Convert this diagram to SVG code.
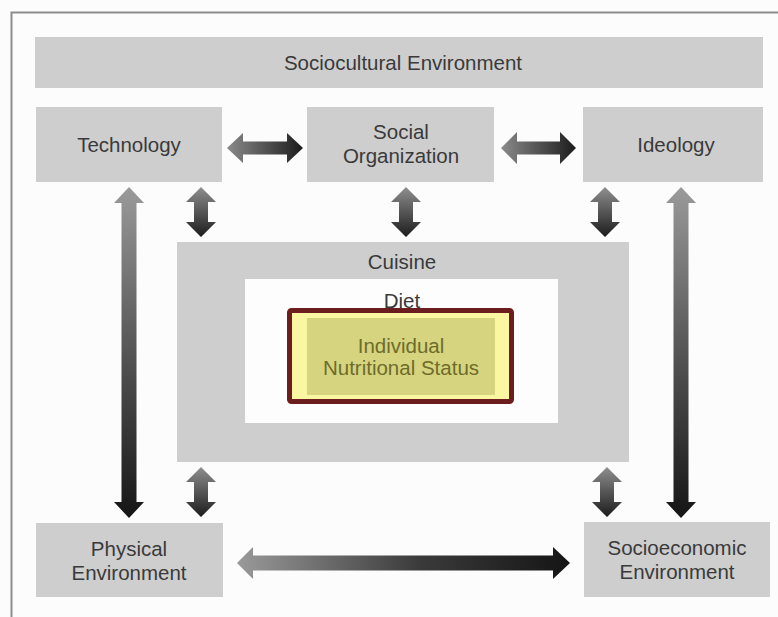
<svg xmlns="http://www.w3.org/2000/svg" width="778" height="617" viewBox="0 0 778 617">
<defs>
<style>
.box{fill:#cecece;}
.t{font-family:"Liberation Sans",Arial,sans-serif;font-size:20.5px;fill:#3a3a3a;text-anchor:middle;dominant-baseline:central;}
.ns{fill:#6e6c2c;}
</style>
<linearGradient id="gh" x1="0" y1="0" x2="1" y2="0">
<stop offset="0" stop-color="#8a8a8a"/><stop offset="1" stop-color="#1c1c1c"/>
</linearGradient>
<linearGradient id="gv" x1="0" y1="0" x2="0" y2="1">
<stop offset="0" stop-color="#8f8f8f"/><stop offset="1" stop-color="#1c1c1c"/>
</linearGradient>
<linearGradient id="glong" x1="0" y1="0" x2="0" y2="1">
<stop offset="0" stop-color="#9a9a9a"/><stop offset="0.5" stop-color="#555"/><stop offset="1" stop-color="#151515"/>
</linearGradient>
<linearGradient id="gbot" x1="0" y1="0" x2="1" y2="0">
<stop offset="0" stop-color="#9a9a9a"/><stop offset="0.55" stop-color="#3a3a3a"/><stop offset="1" stop-color="#151515"/>
</linearGradient>
</defs>
<rect x="0" y="0" width="778" height="617" fill="#fcfcfc"/>
<path d="M11.5 617 V12.5 H778" fill="none" stroke="#8c8c8c" stroke-width="2"/>

<g id="sociocultural"><rect class="box" x="35" y="37" width="728" height="51"/><text class="t" x="403" y="62">Sociocultural Environment</text></g>
<g id="technology"><rect class="box" x="36" y="107" width="186" height="75"/><text class="t" x="129" y="144">Technology</text></g>
<g id="social"><rect class="box" x="307" y="107" width="187" height="75"/><text class="t" x="401" y="131">Social</text><text class="t" x="401" y="155">Organization</text></g>
<g id="ideology"><rect class="box" x="583" y="107" width="180" height="75"/><text class="t" x="676" y="144">Ideology</text></g>
<g id="cuisine"><rect class="box" x="177" y="242" width="452" height="220"/><text class="t" x="402" y="261">Cuisine</text></g>
<g id="diet"><rect x="245" y="279" width="313" height="144" fill="#fdfdfd"/><text class="t" x="402" y="300">Diet</text></g>
<g id="status"><rect x="289.5" y="310.5" width="222" height="91" rx="2" fill="#faf6a2" stroke="#6c1e1e" stroke-width="5"/><rect x="307" y="318" width="188" height="77" fill="#d6d47e"/><text class="t ns" x="401" y="345">Individual</text><text class="t ns" x="401" y="367">Nutritional Status</text></g>
<g id="physical"><rect class="box" x="36" y="523" width="187" height="74"/><text class="t" x="129" y="548">Physical</text><text class="t" x="129" y="572">Environment</text></g>
<g id="socioeconomic"><rect class="box" x="584" y="522" width="186" height="75"/><text class="t" x="677" y="547">Socioeconomic</text><text class="t" x="677" y="571">Environment</text></g>

<g id="connectors">
<path fill="url(#gh)" d="M227 148 L243 133 L243 141.5 L287 141.5 L287 133 L303 148 L287 163 L287 154.5 L243 154.5 L243 163 Z"/>
<path fill="url(#gh)" d="M501 148 L517 132 L517 141.5 L560 141.5 L560 132 L576 148 L560 164 L560 154.5 L517 154.5 L517 164 Z"/>
<path fill="url(#gv)" d="M201 187 L216 202 L208 202 L208 222 L216 222 L201 237 L186 222 L194 222 L194 202 L186 202 Z"/>
<path fill="url(#gv)" d="M406 187 L421 202 L413 202 L413 222 L421 222 L406 237 L391 222 L399 222 L399 202 L391 202 Z"/>
<path fill="url(#gv)" d="M605 187 L620 202 L612 202 L612 222 L620 222 L605 237 L590 222 L598 222 L598 202 L590 202 Z"/>
<path fill="url(#gv)" d="M201 467 L216 482 L208 482 L208 502 L216 502 L201 517 L186 502 L194 502 L194 482 L186 482 Z"/>
<path fill="url(#gv)" d="M607 467 L622 482 L614 482 L614 502 L622 502 L607 517 L592 502 L600 502 L600 482 L592 482 Z"/>
<path fill="url(#glong)" d="M129 187 L144 203 L136.5 203 L136.5 502 L144 502 L129 518 L114 502 L121.5 502 L121.5 203 L114 203 Z"/>
<path fill="url(#glong)" d="M681 187 L696 203 L688.5 203 L688.5 502 L696 502 L681 518 L666 502 L673.5 502 L673.5 203 L666 203 Z"/>
<path fill="url(#gbot)" d="M237 563 L253 547 L253 555.5 L553 555.5 L553 547 L570 563 L553 579 L553 570.5 L253 570.5 L253 579 Z"/>
</g>
</svg>
